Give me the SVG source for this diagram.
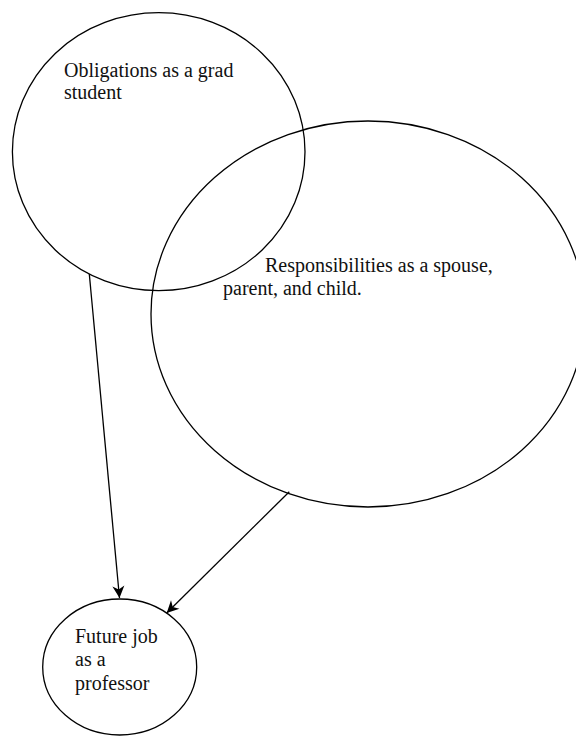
<svg xmlns="http://www.w3.org/2000/svg" width="576" height="736" viewBox="0 0 576 736">
<style>
.shape{fill:none;stroke:#000;stroke-width:1.3}
.lbl{font-family:"Liberation Serif","Times New Roman",serif;font-size:20px;fill:#111}
.conn{fill:none;stroke:#000;stroke-width:1.3}
</style>
<defs>
<marker id="arr" markerUnits="userSpaceOnUse" markerWidth="16" markerHeight="16" refX="13" refY="7" orient="auto">
<path d="M13,7 L1,1 L4.5,7 L1,13 Z" fill="#000"/>
</marker>
</defs>
<rect width="576" height="736" fill="#fff"/>
<g id="node-grad">
<ellipse class="shape" cx="158.7" cy="151.7" rx="146.3" ry="139"/>
<text class="lbl" x="64" y="77">Obligations as a grad</text>
<text class="lbl" x="64" y="99">student</text>
</g>
<g id="node-family">
<ellipse class="shape" cx="368" cy="314" rx="217" ry="193"/>
<text class="lbl" x="265" y="272">Responsibilities as a spouse,</text>
<text class="lbl" x="223" y="295">parent, and child.</text>
</g>
<g id="node-job">
<ellipse class="shape" cx="119.7" cy="667" rx="77" ry="68"/>
<text class="lbl" x="75" y="643">Future job</text>
<text class="lbl" x="75" y="666">as a</text>
<text class="lbl" x="75" y="690">professor</text>
</g>
<g id="connectors">
<line class="conn" x1="89.3" y1="274" x2="119.5" y2="598" marker-end="url(#arr)"/>
<line class="conn" x1="289.3" y1="491.7" x2="166.7" y2="613" marker-end="url(#arr)"/>
</g>
</svg>
